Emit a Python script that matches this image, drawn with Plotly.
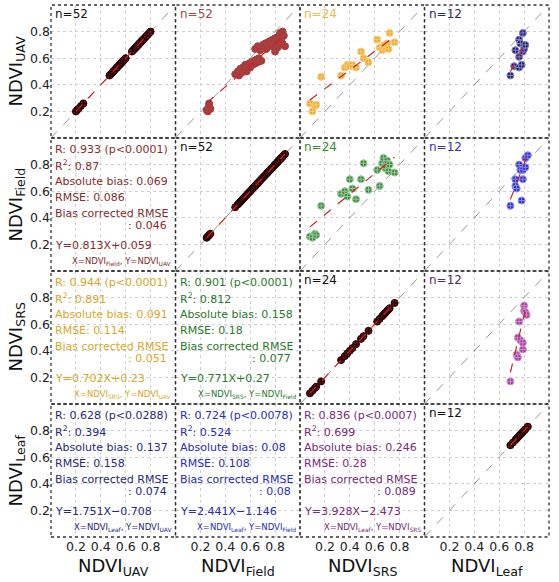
import plotly.graph_objects as go
from plotly.subplots import make_subplots

VARS = ["UAV", "Field", "SRS", "Leaf"]
AXIS_RANGE = [0.0, 1.0]
TICKS = [0.2, 0.4, 0.6, 0.8]
TICK_TEXT = ["0.2", "0.4", "0.6", "0.8"]

# ---- n = 52 : NDVI_Field (x) vs NDVI_UAV (y)
field_52 = [0.25, 0.26, 0.27, 0.27, 0.28,
            0.48, 0.50, 0.51, 0.52, 0.53, 0.54, 0.55, 0.56, 0.57, 0.58,
            0.59, 0.60, 0.61, 0.62, 0.63, 0.64, 0.65, 0.66, 0.67, 0.69,
            0.64, 0.66, 0.68, 0.70, 0.71, 0.72, 0.73, 0.74, 0.75, 0.76,
            0.77, 0.78, 0.79, 0.80, 0.80, 0.81, 0.82, 0.82, 0.83, 0.84,
            0.85, 0.85, 0.86, 0.87, 0.88, 0.86, 0.84]
uav_52 = [0.21, 0.20, 0.24, 0.26, 0.22,
          0.48, 0.50, 0.47, 0.52, 0.49, 0.53, 0.51, 0.55, 0.50, 0.54,
          0.56, 0.53, 0.57, 0.55, 0.58, 0.56, 0.59, 0.57, 0.60, 0.58,
          0.67, 0.69, 0.66, 0.70, 0.68, 0.71, 0.67, 0.72, 0.70, 0.73,
          0.69, 0.74, 0.71, 0.65, 0.75, 0.72, 0.68, 0.76, 0.73, 0.70,
          0.78, 0.74, 0.71, 0.77, 0.69, 0.80, 0.79]

# ---- n = 24 : NDVI_SRS (x) vs NDVI_UAV / NDVI_Field (y)
srs_24 = [0.08, 0.10, 0.12, 0.13, 0.17, 0.33, 0.36, 0.38, 0.40, 0.42, 0.45, 0.49,
          0.51, 0.55, 0.62, 0.64, 0.66, 0.67, 0.68, 0.69, 0.70, 0.71, 0.72, 0.76]
uav_24 = [0.26, 0.20, 0.24, 0.25, 0.46, 0.47, 0.53, 0.55, 0.54, 0.55, 0.53, 0.65,
          0.60, 0.57, 0.74, 0.68, 0.66, 0.69, 0.70, 0.68, 0.71, 0.67, 0.79, 0.72]
field_24 = [0.26, 0.25, 0.28, 0.27, 0.49, 0.58, 0.60, 0.56, 0.69, 0.62, 0.54, 0.69,
            0.81, 0.61, 0.76, 0.64, 0.81, 0.85, 0.78, 0.77, 0.83, 0.75, 0.80, 0.74]

# ---- n = 12 : NDVI_Leaf (x) vs others (y)
leaf_x_uav = [0.69, 0.72, 0.73, 0.76, 0.76, 0.76, 0.77, 0.78, 0.79, 0.79, 0.80, 0.81]
uav_12 = [0.47, 0.54, 0.66, 0.74, 0.61, 0.53, 0.71, 0.55, 0.79, 0.65, 0.67, 0.70]
leaf_x_field = [0.69, 0.73, 0.73, 0.74, 0.76, 0.77, 0.78, 0.79, 0.79, 0.81, 0.81, 0.83]
field_12 = [0.49, 0.69, 0.64, 0.62, 0.80, 0.76, 0.53, 0.76, 0.69, 0.85, 0.78, 0.87]
leaf_x_srs = [0.69, 0.74, 0.75, 0.75, 0.76, 0.77, 0.79, 0.79, 0.80, 0.80, 0.81, 0.82]
srs_12 = [0.17, 0.37, 0.35, 0.50, 0.62, 0.48, 0.46, 0.41, 0.74, 0.70, 0.69, 0.67]
leaf_12 = [0.69, 0.71, 0.73, 0.74, 0.75, 0.76, 0.77, 0.78, 0.79, 0.80, 0.81, 0.83]

# ---- regression results, order: (Field,UAV),(SRS,UAV),(Leaf,UAV),(SRS,Field),(Leaf,Field),(Leaf,SRS)
slopes = [0.813, 0.702, 1.751, 0.771, 2.441, 3.928]
intercepts = [0.059, 0.23, -0.708, 0.27, -1.146, -2.473]
r_vals = ["0.933", "0.944", "0.628", "0.901", "0.724", "0.836"]
p_vals = ["0.0001", "0.0001", "0.0288", "0.0001", "0.0078", "0.0007"]
r2_vals = ["0.87", "0.891", "0.394", "0.812", "0.524", "0.699"]
abs_bias = ["0.069", "0.091", "0.137", "0.158", "0.08", "0.246"]
rmse_vals = ["0.086", "0.114", "0.158", "0.18", "0.108", "0.28"]
bc_rmse = ["0.046", "0.051", "0.074", "0.077", "0.08", "0.089"]
equations = ["Y=0.813X+0.059", "Y=0.702X+0.23", "Y=1.751X\u22120.708",
             "Y=0.771X+0.27", "Y=2.441X\u22121.146", "Y=3.928X\u22122.473"]
n_counts = [52, 24, 12, 24, 12, 12]

pairs = [(0, 1), (0, 2), (0, 3), (1, 2), (1, 3), (2, 3)]
pair_x = [field_52, srs_24, leaf_x_uav, srs_24, leaf_x_field, leaf_x_srs]
pair_y = [uav_52, uav_24, uav_12, field_24, field_12, srs_12]
marker_fill = ["#c42a2a", "#f2a72a", "#1f1f78", "#3b8a3b", "#2b2bd0", "#a03ca0"]
marker_edge = ["#9a4a4a", "#f6cf7e", "#8585c0", "#98c898", "#8c8cee", "#cf8fd0"]
text_colors = ["#8b2c2c", "#d9a72a", "#28287e", "#2a7a2a", "#2a2ac0", "#7a2a7a"]
n_colors = ["#a84a4a", "#e8bc48", "#2a2a70", "#3a8a3a", "#3535c0", "#5a2a5a"]

diag_values = [uav_52, field_52, srs_24, leaf_12]
diag_n = [52, 52, 24, 12]

FONT = "DejaVu Sans"
fig = make_subplots(rows=4, cols=4, horizontal_spacing=0, vertical_spacing=0)


def idx(r, c):
    return r * 4 + c + 1


def axn(prefix, r, c):
    i = idx(r, c)
    return prefix if i == 1 else f"{prefix}{i}"


# empty traces so lower-triangle subplots are drawn
for r in range(4):
    for c in range(r):
        fig.add_trace(go.Scatter(x=[None], y=[None], mode="markers", hoverinfo="skip",
                                 showlegend=False), row=r + 1, col=c + 1)

# 1:1 lines
for r in range(4):
    for c in range(r, 4):
        fig.add_trace(go.Scatter(x=AXIS_RANGE, y=AXIS_RANGE, mode="lines",
                                 line=dict(color="#9a9a9a", width=1, dash="dash"),
                                 hoverinfo="skip", showlegend=False), row=r + 1, col=c + 1)

# diagonal panels
for k in range(4):
    vals = diag_values[k]
    fig.add_trace(go.Scatter(x=vals, y=vals, mode="markers",
                             marker=dict(symbol="circle-cross", size=7, color="#6e1010",
                                         line=dict(color="#1a0505", width=1)),
                             showlegend=False), row=k + 1, col=k + 1)
    lo, hi = min(vals), max(vals)
    fig.add_trace(go.Scatter(x=[lo, hi], y=[lo, hi], mode="lines",
                             line=dict(color="#d42020", width=1.2, dash="dash"),
                             showlegend=False), row=k + 1, col=k + 1)
    fig.add_annotation(xref=f"{axn('x', k, k)} domain", yref=f"{axn('y', k, k)} domain",
                       x=0.02, y=0.935, xanchor="left", yanchor="middle", showarrow=False,
                       text=f"n={diag_n[k]}", font=dict(family=FONT, size=12, color="#111111"))

# upper panels + transposed text panels
for i, (r, c) in enumerate(pairs):
    xs, ys = pair_x[i], pair_y[i]
    fig.add_trace(go.Scatter(x=xs, y=ys, mode="markers",
                             marker=dict(symbol="circle-cross", size=7, color=marker_fill[i],
                                         line=dict(color=marker_edge[i], width=1)),
                             showlegend=False), row=r + 1, col=c + 1)
    lo, hi = min(xs), max(xs)
    fig.add_trace(go.Scatter(x=[lo, hi], y=[slopes[i] * lo + intercepts[i], slopes[i] * hi + intercepts[i]],
                             mode="lines", line=dict(color="#d42020", width=1.2, dash="dash"),
                             showlegend=False), row=r + 1, col=c + 1)
    fig.add_annotation(xref=f"{axn('x', r, c)} domain", yref=f"{axn('y', r, c)} domain",
                       x=0.02, y=0.935, xanchor="left", yanchor="middle", showarrow=False,
                       text=f"n={n_counts[i]}", font=dict(family=FONT, size=12, color=n_colors[i]))

    lr, lc = c, r
    xr, yr = f"{axn('x', lr, lc)} domain", f"{axn('y', lr, lc)} domain"
    col = text_colors[i]
    lines = [
        (f"R: {r_vals[i]} (p<{p_vals[i]})", 0.912),
        (f"R<sup>2</sup>: {r2_vals[i]}", 0.792),
        (f"Absolute bias: {abs_bias[i]}", 0.671),
        (f"RMSE: {rmse_vals[i]}", 0.554),
        ("Bias corrected RMSE", 0.429),
        (equations[i], 0.19),
    ]
    for t, yy in lines:
        fig.add_annotation(xref=xr, yref=yr, x=0.02, y=yy, xanchor="left", yanchor="middle",
                           showarrow=False, text=t, font=dict(family=FONT, size=11, color=col))
    fig.add_annotation(xref=xr, yref=yr, x=0.945, y=0.345, xanchor="right", yanchor="middle",
                       showarrow=False, text=f": {bc_rmse[i]}",
                       font=dict(family=FONT, size=11, color=col))
    fig.add_annotation(xref=xr, yref=yr, x=0.985, y=0.07, xanchor="right", yanchor="middle",
                       showarrow=False,
                       text=f"X=NDVI<sub>{VARS[c]}</sub>, Y=NDVI<sub>{VARS[r]}</sub>",
                       font=dict(family=FONT, size=8.5, color=col))

# axes styling
for r in range(4):
    for c in range(4):
        fig.update_xaxes(range=AXIS_RANGE, tickvals=TICKS, ticktext=TICK_TEXT,
                         showticklabels=(r == 3), showgrid=True, gridcolor="#d0d0d0",
                         griddash="dot", gridwidth=1, zeroline=False, showline=False,
                         ticks="", tickfont=dict(family=FONT, size=12.5, color="#222222"),
                         row=r + 1, col=c + 1)
        fig.update_yaxes(range=AXIS_RANGE, tickvals=TICKS, ticktext=TICK_TEXT,
                         showticklabels=(c == 0), showgrid=True, gridcolor="#d0d0d0",
                         griddash="dot", gridwidth=1, zeroline=False, showline=False,
                         ticks="", tickfont=dict(family=FONT, size=12.5, color="#222222"),
                         row=r + 1, col=c + 1)
        fig.add_shape(type="rect", xref=f"{axn('x', r, c)} domain", yref=f"{axn('y', r, c)} domain",
                      x0=0, x1=1, y0=0, y1=1, line=dict(color="#333333", width=1.3, dash="dot"),
                      layer="above")

# axis titles
L, R_, T, B = 51, 10, 5, 45
W, H = 559, 582
pw, ph = W - L - R_, H - T - B
for k, name in enumerate(VARS):
    yc = 1 - (k + 0.5) / 4
    fig.add_annotation(xref="paper", yref="paper", x=(16 - L) / pw, y=yc, textangle=-90,
                       xanchor="center", yanchor="middle", showarrow=False,
                       text=f"NDVI<sub>{name}</sub>", font=dict(family=FONT, size=18, color="#111111"))
    xc = (k + 0.5) / 4
    fig.add_annotation(xref="paper", yref="paper", x=xc, y=-(553 - (H - B)) / ph,
                       xanchor="center", yanchor="top", showarrow=False,
                       text=f"NDVI<sub>{name}</sub>", font=dict(family=FONT, size=18, color="#111111"))

fig.update_layout(width=W, height=H, margin=dict(l=L, r=R_, t=T, b=B),
                  plot_bgcolor="white", paper_bgcolor="white", showlegend=False)

fig.write_html("out.html", config={"displayModeBar": False},
               post_script="document.body.style.margin='0';document.body.style.overflow='hidden';")
